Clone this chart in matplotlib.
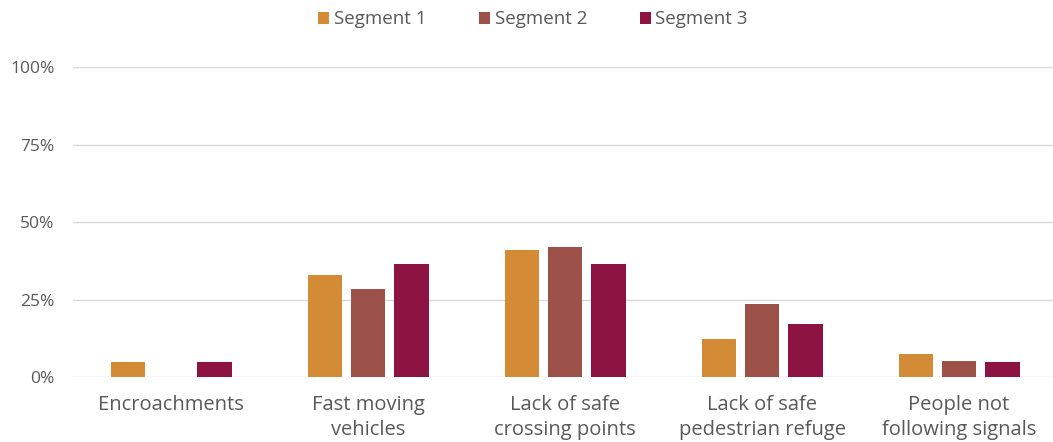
import numpy as np
import matplotlib.pyplot as plt
from matplotlib.ticker import PercentFormatter

# Values (share of respondents)
categories = ["Encroachments", "Fast moving\nvehicles", "Lack of safe\ncrossing points",
              "Lack of safe\npedestrian refuge", "People not\nfollowing signals"]
segment_1 = [0.05, 0.33, 0.41, 0.124, 0.074]
segment_2 = [0.0, 0.285, 0.42, 0.236, 0.052]
segment_3 = [0.05, 0.364, 0.364, 0.17, 0.049]
series_names = ["Segment 1", "Segment 2", "Segment 3"]
colors = ["#D48B36", "#9C5149", "#8D1442"]

plt.rcParams['font.family'] = ['Open Sans', 'DejaVu Sans']
text_color = "#595959"

fig = plt.figure(figsize=(10.53, 4.42), dpi=100)
ax = fig.add_axes([0.0689, 0.147, 0.9311, 0.7007])

x = np.arange(len(categories))
width = 0.176
step = 0.219
for i, (vals, name, c) in enumerate(zip([segment_1, segment_2, segment_3], series_names, colors)):
    ax.bar(x + (i - 1) * step, vals, width, color=c, label=name, zorder=3)

ax.set_xlim(-0.5, 4.477)
ax.set_ylim(0, 1.0)
ax.set_yticks([0, 0.25, 0.5, 0.75, 1.0])
ax.yaxis.set_major_formatter(PercentFormatter(1.0, decimals=0))
ax.grid(axis='y', color="#D9D9D9", linewidth=1, zorder=0)
for s in ax.spines.values():
    s.set_visible(False)
ax.tick_params(axis='both', length=0, colors=text_color)
ax.tick_params(axis='y', labelsize=12.5, pad=13)
ax.set_xticks(x)
ax.set_xticklabels(categories, fontsize=14.5, linespacing=1.36)
ax.tick_params(axis='x', pad=13)

fig.legend(loc='upper center', bbox_to_anchor=(0.506, 1.015), ncol=3, frameon=False,
           fontsize=13.5, handlelength=0.6, handleheight=0.6, handletextpad=0.25,
           columnspacing=2.8, labelcolor=text_color)

fig.savefig("out.png", dpi=100, facecolor="white")
